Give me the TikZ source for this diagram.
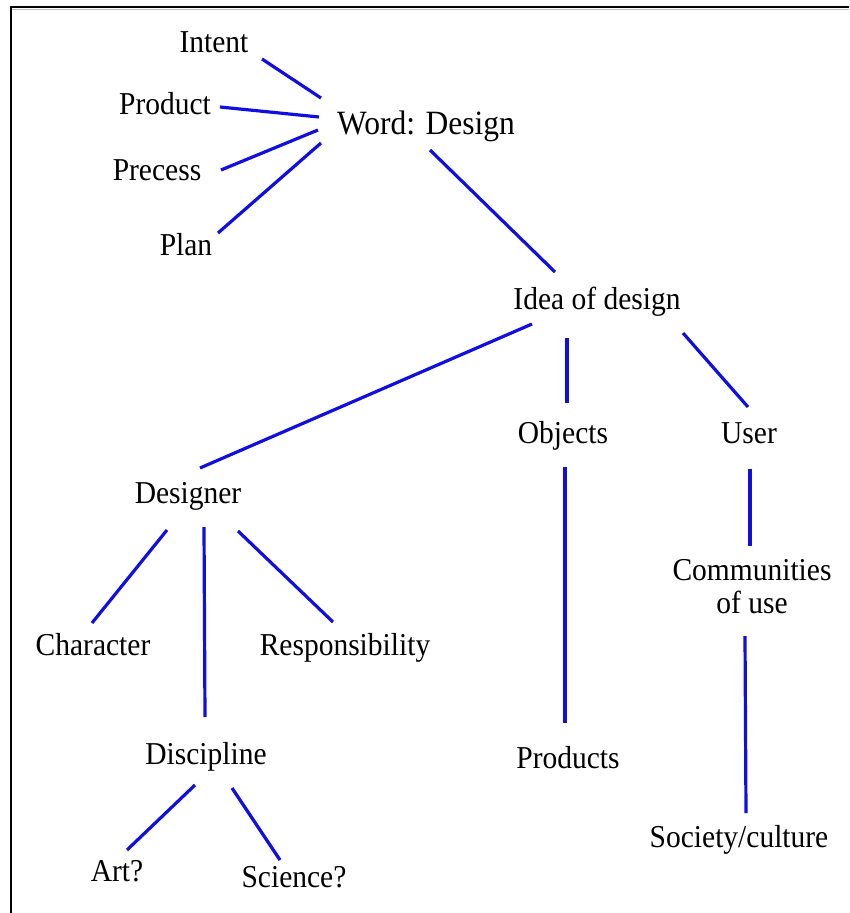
\documentclass[tikz,border=0pt]{standalone}
\usepackage{fontspec}
\usepackage{graphicx}
\setmainfont{Liberation Serif}
\usetikzlibrary{calc}
\definecolor{linkblue}{RGB}{15,15,228}
\definecolor{shadowgray}{RGB}{190,190,190}
\newcommand{\tallt}[1]{\scalebox{1}[1.08]{#1}}
\begin{document}
\begin{tikzpicture}[x=1pt,y=-1pt,
  lbl/.style={anchor=base,inner sep=0pt,font=\fontsize{29.5}{33}\selectfont},
  bigl/.style={lbl,font=\fontsize{31.5}{35}\selectfont},
  link/.style={draw=linkblue,line width=3.2pt},
  frameline/.style={draw=black,line width=2.8pt}]
\useasboundingbox (0,0) rectangle (849,913);
% frame (top and left edges)
\draw[shadowgray,line width=1pt] (12,9.6) -- (849,9.6);
\draw[frameline] (11,7) -- (849,7);
\draw[frameline] (11,5.6) -- (11,913);
% nodes
\node[lbl] (intent) at (214,52) {\tallt{Intent}};
\node[lbl] (product) at (165,114) {\tallt{Product}};
\node[bigl] (word) at (426,134) {\tallt{Word: Design}};
\node[lbl] (precess) at (157,180) {\tallt{Precess}};
\node[lbl] (plan) at (186,255) {\tallt{Plan}};
\node[lbl] (idea) at (597,309) {\tallt{Idea of design}};
\node[lbl] (objects) at (563,443) {\tallt{Objects}};
\node[lbl] (user) at (749,443) {\tallt{User}};
\node[lbl] (designer) at (188,503) {\tallt{Designer}};
\node[lbl] (character) at (93,655) {\tallt{Character}};
\node[lbl] (resp) at (345,655) {\tallt{Responsibility}};
\node[lbl,align=center] (comm) at (752,613) {\tallt{Communities}\\\tallt{of use}};
\node[lbl] (discipline) at (206,764) {\tallt{Discipline}};
\node[lbl] (products) at (568,768) {\tallt{Products}};
\node[lbl] (art) at (117,881) {\tallt{Art?}};
\node[lbl] (science) at (294,887) {\tallt{Science?}};
\node[lbl] (society) at (739,847) {\tallt{Society/culture}};
% connectors
\draw[link] ($(intent.base)+(48,7)$) -- ($(word.base)+(-105,-36)$);
\draw[link] ($(product.base)+(55,-7)$) -- ($(word.base)+(-107,-17)$);
\draw[link] ($(precess.base)+(64,-10)$) -- ($(word.base)+(-108,-4)$);
\draw[link] ($(plan.base)+(32,-22)$) -- ($(word.base)+(-105,9)$);
\draw[link] ($(word.base)+(4,16)$) -- ($(idea.base)+(-42,-37)$);
\draw[link] ($(idea.base)+(-65,15)$) -- ($(designer.base)+(12,-35)$);
\draw[link] ($(idea.base)+(-30,29)$) -- ($(objects.base)+(4,-40)$);
\draw[link] ($(idea.base)+(86,24)$) -- ($(user.base)+(-1,-36)$);
\draw[link] ($(objects.base)+(2,24)$) -- ($(products.base)+(-3,-45)$);
\draw[link] ($(user.base)+(1,26)$) -- ($(comm.base)+(-2,-67)$);
\draw[link] ($(comm.base)+(-7,23)$) -- ($(society.base)+(7,-34)$);
\draw[link] ($(designer.base)+(-21,27)$) -- ($(character.base)+(-1,-32)$);
\draw[link] ($(designer.base)+(16,24)$) -- ($(discipline.base)+(-1,-47)$);
\draw[link] ($(designer.base)+(50,28)$) -- ($(resp.base)+(-12,-33)$);
\draw[link] ($(discipline.base)+(-11,21)$) -- ($(art.base)+(10,-31)$);
\draw[link] ($(discipline.base)+(26,24)$) -- ($(science.base)+(-14,-27)$);
\end{tikzpicture}
\end{document}
